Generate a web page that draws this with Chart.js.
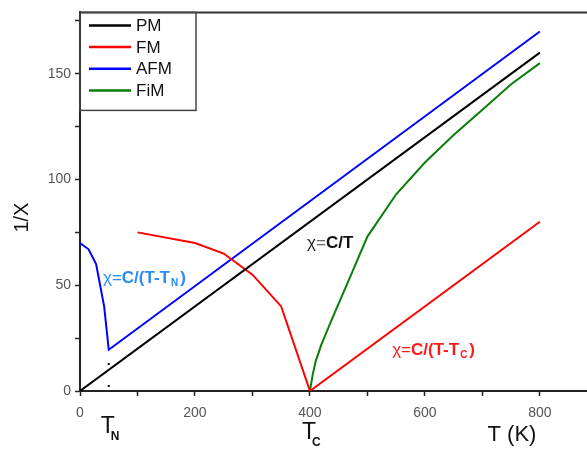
<!DOCTYPE html>
<html>
<head>
<meta charset="utf-8">
<script src="https://cdn.jsdelivr.net/npm/chart.js@4"></script>
<style>
  html, body { margin: 0; padding: 0; background: #fff; }
  #wrap { width: 587px; height: 451px; }
</style>
</head>
<body>
<div id="wrap"><canvas id="magChart"></canvas></div>
<script>
// values: temperature T (K) and 1/X
const pmT = [0, 800];
const pmY = [0, 160];

const fmT = [100, 200, 250, 300, 350, 400, 800];
const fmY = [75, 70, 65, 55, 40, 0, 80];

const afmT = [0, 15, 28, 42, 50, 800];
const afmY = [70, 67, 60, 40, 19.5, 170];

const fimT = [400, 405, 410, 420, 440, 470, 500, 550, 600, 650, 700, 750, 800];
const fimY = [0, 8, 14, 22, 35, 54, 73, 93, 108, 121, 133, 145, 155];

const tnDotsT = [50, 50];
const tnDotsY = [0, 19.5];

const xTicks = [0, 200, 400, 600, 800];
const yTicks = [0, 50, 100, 150];

function toPoints(xs, ys) {
  return xs.map(function (x, i) { return { x: x, y: ys[i] }; });
}

function drawRich(ctx, parts, x, y) {
  parts.forEach(function (p) {
    ctx.font = p.font;
    ctx.fillStyle = p.color;
    ctx.textBaseline = 'middle';
    ctx.textAlign = 'left';
    ctx.fillText(p.text, x, y + (p.dy || 0));
    x += ctx.measureText(p.text).width + (p.gap || 0);
  });
}

const extras = {
  id: 'extras',
  afterDraw: function (chart) {
    const ctx = chart.ctx;
    const xs = chart.scales.x;
    const ys = chart.scales.y;
    const area = chart.chartArea;
    ctx.save();

    // top frame line
    ctx.strokeStyle = '#333';
    ctx.lineWidth = 2;
    ctx.beginPath();
    ctx.moveTo(area.left, area.top);
    ctx.lineTo(area.right, area.top);
    ctx.stroke();

    // legend box
    ctx.lineWidth = 1.5;
    ctx.strokeStyle = '#444';
    ctx.strokeRect(area.left, area.top, 116, 98);
    let rowY = area.top + 13;
    chart.data.datasets.forEach(function (ds) {
      if (!ds.inLegend) return;
      ctx.strokeStyle = ds.borderColor;
      ctx.lineWidth = 2.5;
      ctx.beginPath();
      ctx.moveTo(area.left + 9, rowY);
      ctx.lineTo(area.left + 51, rowY);
      ctx.stroke();
      ctx.fillStyle = '#111';
      ctx.font = '17px "Liberation Sans", Arial, sans-serif';
      ctx.textBaseline = 'middle';
      ctx.textAlign = 'left';
      ctx.fillText(ds.label, area.left + 56, rowY + 1);
      rowY += 21.7;
    });

    const reg = '17px "Liberation Sans", Arial, sans-serif';
    const bold = 'bold 17px "Liberation Sans", Arial, sans-serif';
    const sub = 'bold 10px "Liberation Sans", Arial, sans-serif';

    // curve annotations
    const blue = '#2a8cf2';
    drawRich(ctx, [
      { text: 'χ', font: reg, color: blue },
      { text: '=', font: reg, color: blue },
      { text: 'C/(T-T', font: bold, color: blue, gap: 1 },
      { text: 'N', font: sub, color: blue, dy: 5, gap: 2 },
      { text: ')', font: bold, color: blue }
    ], xs.getPixelForValue(40), ys.getPixelForValue(53.5));

    drawRich(ctx, [
      { text: 'χ', font: reg, color: '#222' },
      { text: '=', font: reg, color: '#666' },
      { text: 'C/T', font: bold, color: '#111' }
    ], xs.getPixelForValue(395), ys.getPixelForValue(70));

    const red = '#ff1a1a';
    drawRich(ctx, [
      { text: 'χ', font: reg, color: red },
      { text: '=', font: reg, color: red },
      { text: 'C/(T-T', font: bold, color: red, gap: 1 },
      { text: 'C', font: sub, color: red, dy: 5, gap: 2 },
      { text: ')', font: bold, color: red }
    ], xs.getPixelForValue(543), ys.getPixelForValue(19.4));

    // labels under the T axis
    const big = '23px "Liberation Sans", Arial, sans-serif';
    const bigSub = 'bold 12px "Liberation Sans", Arial, sans-serif';
    const baseY = area.bottom;
    drawRich(ctx, [
      { text: 'T', font: big, color: '#111', gap: -4 },
      { text: 'N', font: bigSub, color: '#111', dy: 10 }
    ], xs.getPixelForValue(50) - 8, baseY + 36);
    drawRich(ctx, [
      { text: 'T', font: big, color: '#111', gap: -4 },
      { text: 'C', font: bigSub, color: '#111', dy: 10 }
    ], xs.getPixelForValue(400) - 8, baseY + 42);
    drawRich(ctx, [
      { text: 'T (K)', font: '22px "Liberation Sans", Arial, sans-serif', color: '#111' }
    ], xs.getPixelForValue(709), baseY + 44);

    // y axis title
    ctx.translate(22, ys.getPixelForValue(82));
    ctx.rotate(-Math.PI / 2);
    ctx.font = '20px "Liberation Sans", Arial, sans-serif';
    ctx.fillStyle = '#111';
    ctx.textAlign = 'center';
    ctx.textBaseline = 'middle';
    ctx.fillText('1/X', 0, 0);
    ctx.restore();
  }
};

const ctx = document.getElementById('magChart');
new Chart(ctx, {
  type: 'line',
  data: {
    datasets: [
      { label: 'PM', data: toPoints(pmT, pmY), borderColor: '#000000', inLegend: true },
      { label: 'FM', data: toPoints(fmT, fmY), borderColor: '#ff0000', inLegend: true },
      { label: 'AFM', data: toPoints(afmT, afmY), borderColor: '#0000ff', inLegend: true },
      { label: 'FiM', data: toPoints(fimT, fimY), borderColor: '#0a7d0a', inLegend: true },
      { label: 'TN', data: toPoints(tnDotsT, tnDotsY), borderColor: '#111', borderWidth: 2,
        borderDash: [2, 20], borderDashOffset: -4, inLegend: false }
    ]
  },
  options: {
    responsive: true,
    maintainAspectRatio: false,
    animation: false,
    layout: { padding: { top: 12, right: 0, left: 0, bottom: 0 } },
    elements: {
      point: { radius: 0 },
      line: { borderWidth: 2, tension: 0, fill: false }
    },
    plugins: {
      legend: { display: false },
      tooltip: { enabled: false }
    },
    scales: {
      x: {
        type: 'linear',
        min: 0,
        max: 882,
        afterFit: function (s) { s.height = 60; },
        border: { display: true, color: '#222', width: 2 },
        grid: { drawOnChartArea: false, tickLength: 5, color: '#222', tickWidth: 1.5 },
        ticks: {
          stepSize: 100,
          includeBounds: false,
          autoSkip: false,
          maxRotation: 0,
          padding: 9,
          color: '#555',
          font: { family: '"Liberation Sans", Arial, sans-serif', size: 14 },
          callback: function (v) { return xTicks.indexOf(v) >= 0 ? v : ''; }
        }
      },
      y: {
        type: 'linear',
        min: 0,
        max: 179,
        afterFit: function (s) { s.width = 80; },
        border: { display: true, color: '#222', width: 2 },
        grid: { drawOnChartArea: false, tickLength: 5, color: '#222', tickWidth: 1.5 },
        ticks: {
          stepSize: 25,
          includeBounds: false,
          autoSkip: false,
          padding: 4,
          color: '#555',
          font: { family: '"Liberation Sans", Arial, sans-serif', size: 14 },
          callback: function (v) { return yTicks.indexOf(v) >= 0 ? v : ''; }
        }
      }
    }
  },
  plugins: [extras]
});
</script>
</body>
</html>
